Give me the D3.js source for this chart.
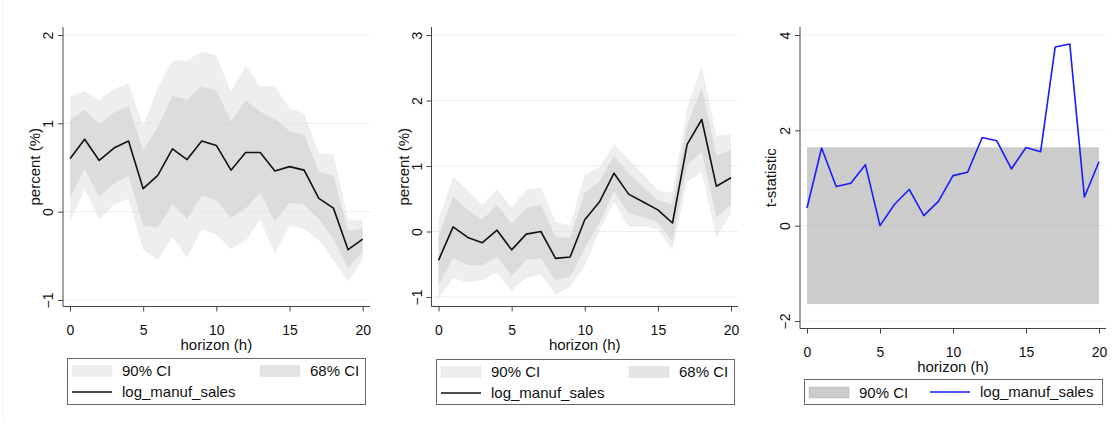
<!DOCTYPE html>
<html>
<head>
<meta charset="utf-8">
<script src="https://cdn.jsdelivr.net/npm/d3@7"></script>
<style>
  html, body { margin: 0; padding: 0; background: #fff; }
  svg { display: block; font-family: "Liberation Sans", Arial, sans-serif; }
</style>
</head>
<body>
<svg id="chart" width="1113" height="427"></svg>
<script>
// Horizons (h)
const horizon = [0,1,2,3,4,5,6,7,8,9,10,11,12,13,14,15,16,17,18,19,20];

// Panel 1: impulse response with confidence bands
const irf1     = [0.60,0.82,0.58,0.72,0.80,0.26,0.41,0.71,0.59,0.80,0.75,0.47,0.67,0.67,0.46,0.51,0.47,0.15,0.04,-0.43,-0.31];
const ci90Up1  = [1.30,1.37,1.26,1.39,1.45,0.97,1.40,1.71,1.71,1.81,1.77,1.36,1.65,1.42,1.42,1.17,1.11,0.66,0.65,-0.09,-0.10];
const ci90Lo1  = [-0.11,0.25,-0.09,0.08,0.15,-0.43,-0.55,-0.29,-0.52,-0.20,-0.26,-0.42,-0.33,-0.09,-0.48,-0.16,-0.19,-0.32,-0.55,-0.79,-0.54];
const ci68Up1  = [1.04,1.15,0.99,1.12,1.19,0.69,0.96,1.31,1.27,1.42,1.37,1.02,1.26,1.13,1.05,0.91,0.87,0.45,0.41,-0.22,-0.19];
const ci68Lo1  = [0.15,0.48,0.17,0.32,0.41,-0.16,-0.18,0.09,-0.08,0.18,0.13,-0.07,0.04,0.21,-0.11,0.10,0.08,-0.08,-0.31,-0.64,-0.45];

// Panel 2: impulse response with confidence bands
const irf2     = [-0.44,0.07,-0.09,-0.17,0.02,-0.28,-0.04,0.00,-0.41,-0.39,0.18,0.45,0.89,0.57,0.45,0.33,0.13,1.33,1.71,0.69,0.82];
const ci90Up2  = [0.17,0.84,0.63,0.41,0.65,0.36,0.64,0.67,0.15,0.09,0.87,0.98,1.33,1.10,0.87,0.63,0.59,1.89,2.52,1.46,1.49];
const ci90Lo2  = [-1.03,-0.71,-0.78,-0.74,-0.63,-0.91,-0.71,-0.66,-0.97,-0.84,-0.52,0.00,0.45,0.07,0.08,0.04,-0.29,0.76,0.91,-0.09,0.28];
const ci68Up2  = [-0.08,0.54,0.33,0.18,0.41,0.12,0.36,0.41,-0.08,-0.10,0.59,0.76,1.16,0.88,0.68,0.48,0.41,1.61,2.20,1.16,1.24];
const ci68Lo2  = [-0.82,-0.41,-0.51,-0.52,-0.38,-0.68,-0.43,-0.41,-0.74,-0.69,-0.25,0.13,0.62,0.28,0.22,0.14,-0.15,1.01,1.22,0.22,0.41];

// Panel 3: t-statistics and the 90% critical band
const tstat    = [0.37,1.63,0.82,0.89,1.28,0.00,0.45,0.76,0.21,0.51,1.05,1.12,1.85,1.78,1.19,1.64,1.55,3.75,3.81,0.60,1.34];
const tCrit    = 1.645;

// Tick values
const yTicks1 = [-1, 0, 1, 2];
const yTicks2 = [-1, 0, 1, 2, 3];
const yTicks3 = [-2, 0, 2, 4];
const xTicks  = [0, 5, 10, 15, 20];

const seriesName = "log_manuf_sales";

const svg = d3.select("#chart");

// faint outer frame edge on the left
svg.append("line").attr("x1", 3.5).attr("x2", 3.5).attr("y1", 0).attr("y2", 423)
  .attr("stroke", "#f2f2f2").attr("stroke-width", 1);

const AXIS = "#444";
const GRID = "#e6eff1";

function drawPanel(p) {
  const g = svg.append("g");
  const x = d3.scaleLinear().domain([0, 20]).range([p.x0, p.x1]);
  const y = d3.scaleLinear().domain(p.yDomain).range(p.yRange);

  // gridlines
  g.selectAll("line.grid").data(p.yTicks).enter().append("line")
    .attr("x1", p.axisX).attr("x2", p.right)
    .attr("y1", d => y(d)).attr("y2", d => y(d))
    .attr("stroke", GRID).attr("stroke-width", 1);

  p.draw(g, x, y);

  // y axis
  const ya = g.append("g").attr("transform", `translate(${p.axisX},0)`)
    .call(d3.axisLeft(y).tickValues(p.yTicks).tickSize(5).tickSizeOuter(0).tickFormat(d3.format("d")));
  ya.select(".domain").attr("d", `M0,${p.top}V${p.bottom}`).attr("stroke", AXIS);
  ya.selectAll(".tick line").attr("stroke", AXIS);
  ya.selectAll(".tick text")
    .attr("x", null).attr("dy", null)
    .attr("transform", "translate(-10,0) rotate(-90)")
    .attr("text-anchor", "middle")
    .attr("font-size", 14).attr("fill", "#111")
    .attr("font-family", "Liberation Sans, Arial, sans-serif");

  // x axis
  const xa = g.append("g").attr("transform", `translate(0,${p.bottom})`)
    .call(d3.axisBottom(x).tickValues(xTicks).tickSize(5).tickSizeOuter(0));
  xa.select(".domain").attr("d", `M${p.axisX},0H${p.right}`).attr("stroke", AXIS);
  xa.selectAll(".tick line").attr("stroke", AXIS);
  xa.selectAll(".tick text")
    .attr("y", 28).attr("dy", null)
    .attr("font-size", 14).attr("fill", "#111")
    .attr("font-family", "Liberation Sans, Arial, sans-serif");

  // titles
  g.append("text").attr("x", x(10)).attr("y", p.bottom + 43)
    .attr("text-anchor", "middle").attr("font-size", 15).attr("fill", "#111")
    .text("horizon (h)");
  g.append("text")
    .attr("transform", `translate(${p.ytitleX},${(p.top + p.bottom) / 2}) rotate(-90)`)
    .attr("text-anchor", "middle").attr("font-size", 15).attr("fill", "#111")
    .text(p.ytitle);

  // legend
  const L = p.legend;
  g.append("rect").attr("x", L.x + 0.5).attr("y", L.y + 0.5).attr("width", L.w).attr("height", L.h)
    .attr("fill", "#fff").attr("stroke", "#666").attr("stroke-width", 1);
  L.items.forEach(it => {
    if (it.type === "area") {
      g.append("rect").attr("x", it.x).attr("y", it.y - 10.5).attr("width", 40).attr("height", 11)
        .attr("fill", it.fill).attr("fill-opacity", it.opacity).attr("stroke", it.fill).attr("stroke-opacity", it.opacity * 0.6);
    } else {
      g.append("line").attr("x1", it.x).attr("x2", it.x + 40).attr("y1", it.y - 5).attr("y2", it.y - 5)
        .attr("stroke", it.stroke).attr("stroke-width", 1.6);
    }
    g.append("text").attr("x", it.x + 50).attr("y", it.y).attr("font-size", 15).attr("fill", "#111").text(it.label);
  });
}

function bandPanel(irf, up90, lo90, up68, lo68) {
  return function (g, x, y) {
    const area = (lo, up) => d3.area().x((d, i) => x(horizon[i])).y0((d, i) => y(lo[i])).y1((d, i) => y(up[i]));
    g.append("path").datum(horizon).attr("d", area(lo90, up90)).attr("fill", "rgb(221,221,221)").attr("fill-opacity", 0.5);
    g.append("path").datum(horizon).attr("d", area(lo68, up68)).attr("fill", "rgb(201,201,201)").attr("fill-opacity", 0.5);
    g.append("path").datum(irf)
      .attr("d", d3.line().x((d, i) => x(horizon[i])).y(d => y(d)))
      .attr("fill", "none").attr("stroke", "#111").attr("stroke-width", 1.6).attr("stroke-linejoin", "round");
  };
}

function bandLegend(bx, by, bw, bh) {
  return {
    x: bx, y: by, w: bw, h: bh,
    items: [
      { type: "area", x: bx + 5, y: by + 18, fill: "rgb(221,221,221)", opacity: 0.5, label: "90% CI" },
      { type: "area", x: bx + 193, y: by + 18, fill: "rgb(201,201,201)", opacity: 0.5, label: "68% CI" },
      { type: "line", x: bx + 5, y: by + 39, stroke: "#111", label: seriesName }
    ]
  };
}

drawPanel({
  x0: 70, x1: 362.7, axisX: 63, right: 370, top: 27, bottom: 306.5,
  yDomain: [-1, 2], yRange: [300, 35], yTicks: yTicks1,
  ytitle: "percent (%)", ytitleX: 40,
  draw: bandPanel(irf1, ci90Up1, ci90Lo1, ci68Up1, ci68Lo1),
  legend: bandLegend(67, 358, 298, 46)
});

drawPanel({
  x0: 438.5, x1: 731, axisX: 431.5, right: 738, top: 27, bottom: 306.5,
  yDomain: [-1, 3], yRange: [297, 35], yTicks: yTicks2,
  ytitle: "percent (%)", ytitleX: 409,
  draw: bandPanel(irf2, ci90Up2, ci90Lo2, ci68Up2, ci68Lo2),
  legend: bandLegend(436, 359, 298, 45)
});

drawPanel({
  x0: 807, x1: 1099, axisX: 800, right: 1106, top: 27, bottom: 328.5,
  yDomain: [-2, 4], yRange: [321, 35], yTicks: yTicks3,
  ytitle: "t-statistic", ytitleX: 776,
  draw: function (g, x, y) {
    g.append("rect")
      .attr("x", x(horizon[0])).attr("width", x(horizon[horizon.length - 1]) - x(horizon[0]))
      .attr("y", y(tCrit)).attr("height", y(-tCrit) - y(tCrit))
      .attr("fill", "rgb(153,153,153)").attr("fill-opacity", 0.5);
    g.append("path").datum(tstat)
      .attr("d", d3.line().x((d, i) => x(horizon[i])).y(d => y(d)))
      .attr("fill", "none").attr("stroke", "#1a1aff").attr("stroke-width", 1.6).attr("stroke-linejoin", "round");
  },
  legend: {
    x: 804, y: 379, w: 298, h: 25,
    items: [
      { type: "area", x: 809, y: 397.5, fill: "rgb(153,153,153)", opacity: 0.5, label: "90% CI" },
      { type: "line", x: 930, y: 397, stroke: "#1a1aff", label: seriesName }
    ]
  }
});
</script>
</body>
</html>
